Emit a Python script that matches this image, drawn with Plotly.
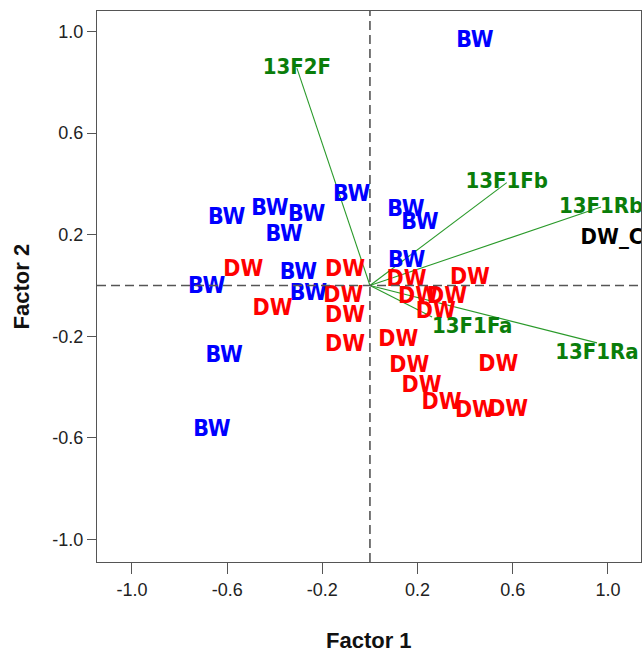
import plotly.graph_objects as go

# Sample scores (Factor 1, Factor 2)
bw_x = [0.441, -0.602, -0.420, -0.266, -0.360, -0.077, 0.151, 0.210, 0.154,
        -0.686, -0.301, -0.259, -0.613, -0.664]
bw_y = [0.960, 0.265, 0.300, 0.278, 0.199, 0.356, 0.297, 0.247, 0.094,
        -0.005, 0.050, -0.033, -0.278, -0.569]

dw_x = [-0.532, -0.409, -0.105, -0.112, -0.105, -0.105, 0.154, 0.420, 0.202,
        0.324, 0.277, 0.119, 0.165, 0.217, 0.301, 0.441, 0.581, 0.539]
dw_y = [0.061, -0.094, 0.061, -0.041, -0.123, -0.234, 0.022, 0.028, -0.045,
        -0.045, -0.104, -0.215, -0.320, -0.398, -0.464, -0.497, -0.490, -0.313]

# Variable loadings (vectors from origin)
var_names = ["13F2F", "13F1Fb", "13F1Rb", "13F1Ra", "13F1Fa"]
var_x = [-0.307, 0.575, 0.971, 0.954, 0.261]
var_y = [0.856, 0.405, 0.309, -0.226, -0.124]
var_textpos = ["middle center", "middle center", "middle center", "bottom center", "bottom right"]

# Supplementary centroid label
sup_name = ["DW_C"]
sup_x = [1.017]
sup_y = [0.187]

tick_vals = [-1.0, -0.6, -0.2, 0.2, 0.6, 1.0]
tick_text = ["-1.0", "-0.6", "-0.2", "0.2", "0.6", "1.0"]

LABEL_FONT = "DejaVu Sans Condensed, Liberation Sans, Arial, sans-serif"
TITLE_FONT = "Liberation Sans, Arial, sans-serif"
TICK_FONT = "Liberation Sans, Arial, sans-serif"

vx, vy = [], []
for x, y in zip(var_x, var_y):
    vx += [0, x, None]
    vy += [0, y, None]

fig = go.Figure()
fig.add_trace(go.Scatter(x=vx, y=vy, mode="lines",
                         line=dict(color="#2a9a2a", width=1.1),
                         hoverinfo="skip", showlegend=False))
fig.add_trace(go.Scatter(x=bw_x, y=bw_y, mode="text", text=["BW"] * len(bw_x),
                         textposition="middle center",
                         textfont=dict(family=LABEL_FONT, size=23, color="#0000ff", weight="bold"),
                         showlegend=False))
fig.add_trace(go.Scatter(x=dw_x, y=dw_y, mode="text", text=["DW"] * len(dw_x),
                         textposition="middle center",
                         textfont=dict(family=LABEL_FONT, size=23, color="#ff0000", weight="bold"),
                         showlegend=False))
fig.add_trace(go.Scatter(x=var_x, y=var_y, mode="text", text=var_names,
                         textposition=var_textpos,
                         textfont=dict(family=LABEL_FONT, size=22, color="#0a7d0a", weight="bold"),
                         showlegend=False))
fig.add_trace(go.Scatter(x=sup_x, y=sup_y, mode="text", text=sup_name,
                         textposition="middle center",
                         textfont=dict(family=LABEL_FONT, size=22, color="#000000", weight="bold"),
                         showlegend=False))

# Reference dashed lines through the origin
fig.add_shape(type="line", xref="x", yref="paper", x0=0, x1=0, y0=0, y1=1,
              line=dict(color="#555555", width=1.6, dash="9px,5px"), layer="above")
fig.add_shape(type="line", xref="paper", yref="y", x0=0, x1=1, y0=0, y1=0,
              line=dict(color="#555555", width=1.6, dash="9px,5px"), layer="above")

axis_common = dict(showgrid=False, zeroline=False, showline=True, mirror=True,
                   linecolor="#555555", linewidth=1.2, ticks="outside",
                   tickcolor="#555555", tickwidth=1.2,
                   tickfont=dict(family=TICK_FONT, size=18, color="#222222"))

fig.update_layout(
    width=644, height=656,
    margin=dict(l=97, r=3, t=11, b=94),
    plot_bgcolor="white", paper_bgcolor="white",
    xaxis=dict(range=[-1.147, 1.139], tickvals=tick_vals, ticktext=tick_text,
               ticklen=11, **axis_common),
    yaxis=dict(range=[-1.089, 1.081], tickvals=tick_vals, ticktext=tick_text,
               ticklen=9, **axis_common),
    annotations=[
        dict(text="Factor 1", xref="paper", yref="paper", x=0.5, y=-0.1416,
             xanchor="center", yanchor="middle", showarrow=False,
             font=dict(family=TITLE_FONT, size=22, color="#111111", weight="bold")),
        dict(text="Factor 2", xref="paper", yref="paper", x=-0.138, y=0.5,
             xanchor="center", yanchor="middle", textangle=-90, showarrow=False,
             font=dict(family=TITLE_FONT, size=22, color="#111111", weight="bold")),
    ],
)

fig.write_html("out.html")
